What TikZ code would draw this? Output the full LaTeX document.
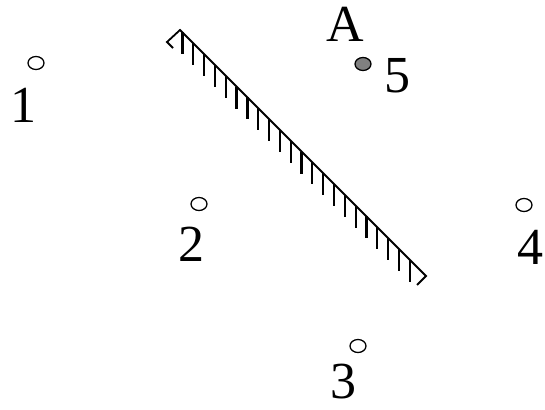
\documentclass[tikz,border=0pt]{standalone}
\usepackage{fontspec}
\setmainfont{Liberation Serif}
\usetikzlibrary{calc,shapes.geometric}

\begin{document}
\begin{tikzpicture}[
  x=1pt,y=-1pt,
  pt/.style={draw,ellipse,line width=1.3pt,minimum width=16pt,minimum height=13pt,inner sep=0pt},
  lbl/.style={inner sep=0pt,font=\fontsize{52}{52}\selectfont},
  wall/.style={line width=1.8pt},
  hatch/.style={line width=2.2pt}
]
\useasboundingbox (0,0) rectangle (545,409);
% points
\node[pt] (p1) at (36,63) {};
\node[pt] (p2) at (199,204) {};
\node[pt] (p3) at (358,346) {};
\node[pt] (p4) at (524,205) {};
\node[pt,fill=gray] (p5) at (363,64) {};
% labels
\node[lbl] (l1) at (23,105) {1};
\node[lbl] (l2) at (191,244) {2};
\node[lbl] (l3) at (343,382) {3};
\node[lbl] (l4) at (530,247) {4};
\node[lbl] (l5) at (397,76) {5};
\node[lbl] (la) at (345,24) {A};
% hatched wall
\coordinate (w1) at (180,30);
\coordinate (w2) at (426,276);
\draw[wall] (173,48) -- (167,42) -- (w1) -- (w2) -- (417,285);
\foreach \t in {0.01,0.054,...,0.96}
  \draw[hatch] ($(w1)!\t!(w2)$) -- ++(0,22);
\end{tikzpicture}
\end{document}
